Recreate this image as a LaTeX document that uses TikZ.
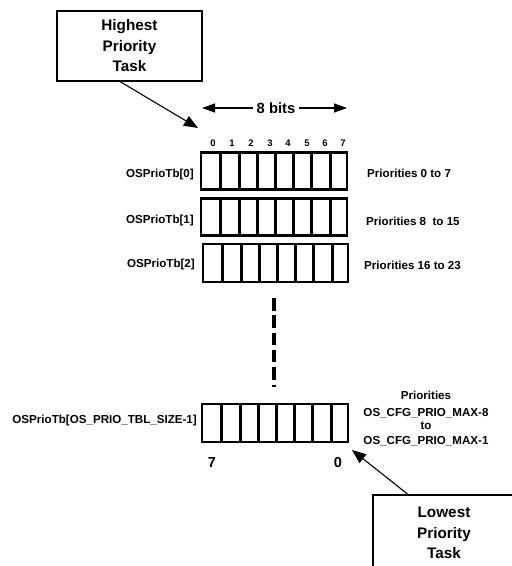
\documentclass[tikz,border=0pt]{standalone}
\usepackage{fontspec}
\setmainfont{Liberation Sans}
\usetikzlibrary{arrows.meta,calc}
\begin{document}
\begin{tikzpicture}[x=1pt,y=-1pt,
  lbl/.style={font=\fontsize{11.6}{14}\selectfont\bfseries, inner sep=0pt},
  bitnum/.style={font=\fontsize{9.5}{11}\selectfont\bfseries, inner sep=0pt},
  endnum/.style={font=\fontsize{14.5}{16}\selectfont\bfseries, inner sep=0pt},
  taskbox/.style={draw, line width=1.1pt, minimum width=145pt, align=center,
    font=\fontsize{15.3}{20.5}\selectfont\bfseries},
  rowbox/.style={draw, line width=2.6pt, minimum width=146pt, minimum height=36.5pt, inner sep=0pt},
  cellline/.style={line width=2.6pt},
  arr/.style={line width=1.1pt, -{Triangle[length=14pt,width=11pt]}},
  dots/.style={line width=4pt, dash pattern=on 12.5pt off 4.8pt}
]
\useasboundingbox (0,0) rectangle (512,566);
\clip (0,0) rectangle (512,566);

% task boxes
\node[taskbox, minimum height=70pt] (hb) at (129.5,46) {Highest\\Priority\\Task};
\node[taskbox, minimum height=76pt, minimum width=142pt] (lb) at (444,533) {Lowest\\Priority\\Task};

% 8 bits
\node[font=\fontsize{14.8}{16}\selectfont\bfseries, inner xsep=3pt, inner ysep=0pt] (bits) at (276,108) {8 bits};
\coordinate (bl) at (202,108);
\coordinate (br) at (347,108);
\draw[line width=1.1pt, -{Triangle[length=13pt,width=9pt]}] (bits.west) -- (bl);
\draw[line width=1.1pt, -{Triangle[length=13pt,width=9pt]}] (bits.east) -- (br);

% bit numbers
\foreach \i/\x in {0/213,1/232,2/251,3/270,4/288,5/307,6/325,7/343}
  \node[bitnum] (b\i) at (\x,143) {\i};

% rows
\node[rowbox] (r0) at (274,171) {};
\node[rowbox] (r1) at (274,217) {};
\node[rowbox, minimum width=145pt, minimum height=38pt] (r2) at (275.5,263) {};
\node[rowbox, minimum width=146pt, minimum height=38pt] (rn) at (275,423) {};
\foreach \r in {r0,r1,r2,rn}
  \foreach \d in {21,39.5,57.5,75.5,93.5,112,130.5}
    \draw[cellline] ($(\r.north west)+(\d,0)$) -- ($(\r.south west)+(\d,0)$);

% row labels
\node[lbl, anchor=east] (l0) at (194,174) {OSPrioTb[0]};
\node[lbl, anchor=east] (l1) at (194,220) {OSPrioTb[1]};
\node[lbl, anchor=east] (l2) at (195,264) {OSPrioTb[2]};
\node[lbl, anchor=east] (ln) at (197,420) {OSPrioTb[OS\_PRIO\_TBL\_SIZE-1]};

% priority labels
\node[lbl, anchor=west] (p0) at (367,173) {Priorities 0 to 7};
\node[lbl, anchor=west] (p1) at (366,221) {Priorities 8\ \ to 15};
\node[lbl, anchor=west] (p2) at (364,265) {Priorities 16 to 23};
\node[lbl, align=center] (pn) at (426,418) {Priorities\\[3pt]OS\_CFG\_PRIO\_MAX-8\\[-1pt]to\\[1pt]OS\_CFG\_PRIO\_MAX-1};

% end numbers
\node[endnum] (e7) at (212,463) {7};
\node[endnum] (e0) at (338,463) {0};

% continuation
\coordinate (d1) at (274,298);
\coordinate (d2) at (274,387);
\draw[dots] (d1) -- (d2);

% pointers
\coordinate (htip) at (198,128);
\coordinate (ltip) at (352,450);
\draw[arr] (hb.255) -- (htip);
\draw[arr] (lb.133.5) -- (ltip);
\end{tikzpicture}
\end{document}
